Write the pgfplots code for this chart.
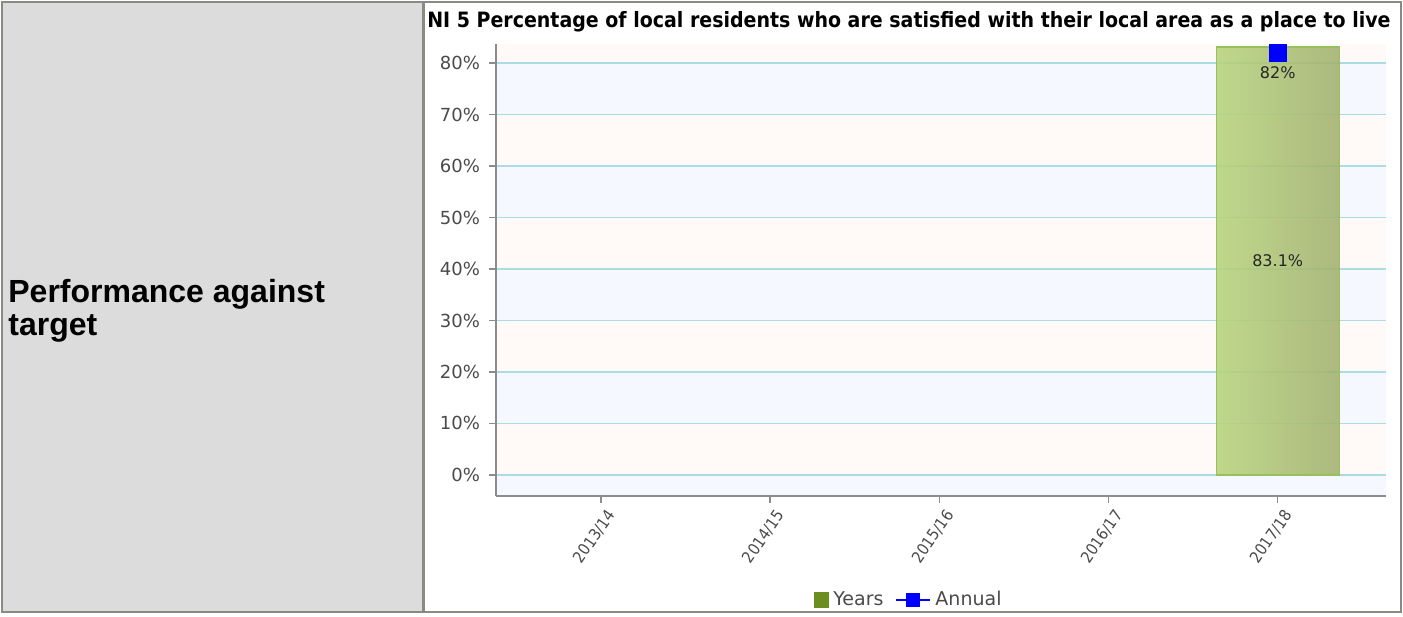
\documentclass[border=0pt]{standalone}
\usepackage{pgfplots}
\pgfplotsset{compat=1.18}
\usepackage{fontspec}
\setmainfont{DejaVu Sans}
\newfontfamily\arialfont{Liberation Sans}
\newfontfamily\condfont{DejaVu Sans Condensed}
\definecolor{framegrey}{HTML}{8A8A84}
\definecolor{cellgrey}{HTML}{DCDCDC}
\definecolor{axisgrey}{HTML}{8C8C8C}
\definecolor{gridcyan}{HTML}{ABDCE3}
\definecolor{bandpink}{HTML}{FFF9F8}
\definecolor{bandblue}{HTML}{F6F8FF}
\definecolor{barleft}{HTML}{B6D47B}
\definecolor{barright}{HTML}{A2B16E}
\definecolor{barborder}{HTML}{98C05C}
\definecolor{legendgreen}{HTML}{6B8E23}
\definecolor{ticktext}{HTML}{4A4A4A}
\begin{document}
\begin{tikzpicture}
\path[draw=none] (0,0) rectangle (701.5pt,307pt);
% table cells
\fill[cellgrey] (1.5pt,1.5pt) rectangle (211.5pt,305.5pt);
\draw[framegrey, line width=1.3pt] (1pt,1pt) rectangle (700.5pt,306pt);
\draw[framegrey, line width=1.3pt] (211.75pt,1pt) -- (211.75pt,306pt);
% left cell text
\node[anchor=base west, inner sep=0pt, font=\arialfont\bfseries\fontsize{16}{18}\selectfont] at (4pt,156pt) {Performance against};
\node[anchor=base west, inner sep=0pt, font=\arialfont\bfseries\fontsize{16}{18}\selectfont] at (4pt,139.5pt) {target};
% title
\node[anchor=center, inner sep=0pt, font=\condfont\bfseries\fontsize{10.55}{12}\selectfont] at (454.5pt,296pt) {NI 5 Percentage of local residents who are satisfied with their local area as a place to live};
\begin{axis}[
  at={(248pt,59pt)}, anchor=south west,
  scale only axis, width=445pt, height=226pt,
  set layers,
  xmin=-0.62, xmax=4.64, ymin=-4.1, ymax=83.7,
  axis x line*=bottom, axis y line*=left,
  axis line style={draw=axisgrey, line width=1pt},
  ytick={0,10,...,80},
  yticklabel={\pgfmathprintnumber{\tick}\%},
  /pgf/number format/assume math mode=true,
  xtick={0,1,2,3,4},
  xticklabels={2013/14,2014/15,2015/16,2016/17,2017/18},
  ymajorgrids, grid style={draw=gridcyan, line width=0.8pt},
  tick align=outside, major tick length=3.5pt,
  tick style={draw=axisgrey, line width=0.7pt},
  y tick label style={font=\fontsize{9}{10}\selectfont, text=ticktext, xshift=-1pt},
  x tick label style={font=\condfont\fontsize{8}{9}\selectfont, text=ticktext, rotate=55, anchor=north east, inner sep=0.5pt, yshift=-3pt},
  legend style={at={(0.465,-0.23)}, anchor=center, draw=none, fill=none,
    font=\fontsize{9.5}{10}\selectfont, text=ticktext, legend columns=-1,
    /tikz/every even column/.append style={column sep=4pt}},
  legend cell align=left,
]
\addplot[draw=none, fill=bandblue, forget plot, on layer=axis background] coordinates {(-0.62,-4.1) (4.64,-4.1) (4.64,0) (-0.62,0)} -- cycle;
\addplot[draw=none, fill=bandpink, forget plot, on layer=axis background] coordinates {(-0.62,0) (4.64,0) (4.64,10) (-0.62,10)} -- cycle;
\addplot[draw=none, fill=bandblue, forget plot, on layer=axis background] coordinates {(-0.62,10) (4.64,10) (4.64,20) (-0.62,20)} -- cycle;
\addplot[draw=none, fill=bandpink, forget plot, on layer=axis background] coordinates {(-0.62,20) (4.64,20) (4.64,30) (-0.62,30)} -- cycle;
\addplot[draw=none, fill=bandblue, forget plot, on layer=axis background] coordinates {(-0.62,30) (4.64,30) (4.64,40) (-0.62,40)} -- cycle;
\addplot[draw=none, fill=bandpink, forget plot, on layer=axis background] coordinates {(-0.62,40) (4.64,40) (4.64,50) (-0.62,50)} -- cycle;
\addplot[draw=none, fill=bandblue, forget plot, on layer=axis background] coordinates {(-0.62,50) (4.64,50) (4.64,60) (-0.62,60)} -- cycle;
\addplot[draw=none, fill=bandpink, forget plot, on layer=axis background] coordinates {(-0.62,60) (4.64,60) (4.64,70) (-0.62,70)} -- cycle;
\addplot[draw=none, fill=bandblue, forget plot, on layer=axis background] coordinates {(-0.62,70) (4.64,70) (4.64,80) (-0.62,80)} -- cycle;
\addplot[draw=none, fill=bandpink, forget plot, on layer=axis background] coordinates {(-0.62,80) (4.64,80) (4.64,83.7) (-0.62,83.7)} -- cycle;
\addplot[ybar, bar width=0.727, draw=barborder, line width=0.7pt,
  left color=barleft, right color=barright, fill opacity=0.88,
  legend image code/.code={\pgfsetfillcolor{legendgreen}\pgfsetfillopacity{1}\pgfpathrectangle{\pgfpoint{0pt}{-3.8pt}}{\pgfpoint{7.6pt}{7.6pt}}\pgfusepath{fill}}]
  coordinates {(4,83.1)};
\addlegendentry{Years}
\addplot[blue, line width=1pt, mark=square*, mark size=4pt, mark options={fill=blue},
  legend image code/.code={\draw[blue, line width=1pt] (0pt,0pt) -- (17pt,0pt); \fill[blue] (5.5pt,-3pt) rectangle (11.5pt,3pt);},
  nodes near coords={\pgfmathprintnumber[assume math mode=true]{\pgfplotspointmeta}\%},
  nodes near coords style={anchor=north, yshift=-3pt, font=\fontsize{8}{9}\selectfont, text=black!85}]
  coordinates {(4,82)};
\addlegendentry{Annual}
\node[font=\fontsize{8}{9}\selectfont, text=black!85] at (axis cs:4,41.55) {83.1\%};
\end{axis}
\end{tikzpicture}
\end{document}
